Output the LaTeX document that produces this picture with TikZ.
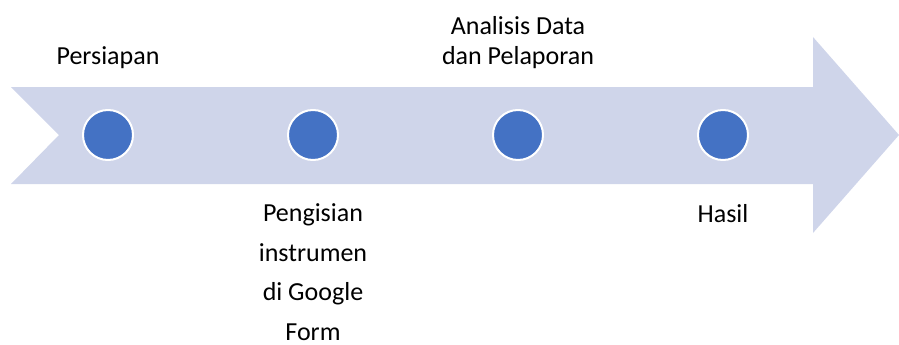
\documentclass[tikz,border=0pt]{standalone}
\usepackage{fontspec}
\setmainfont{Carlito}
\definecolor{arrowfill}{HTML}{CFD5EA}
\definecolor{dotfill}{HTML}{4472C4}
\begin{document}
\begin{tikzpicture}[x=1pt,y=-1pt,
  dot/.style={circle,fill=dotfill,draw=white,line width=2pt,minimum size=50pt,inner sep=0pt},
  lbl/.style={font=\fontsize{26}{29}\selectfont,align=center,anchor=base,inner sep=0pt}]
\useasboundingbox (0,0) rectangle (899,345);
\fill[arrowfill] (11,87) -- (813,87) -- (813,37) -- (899,135) -- (813,233) -- (813,184) -- (11,184) -- (59,135) -- cycle;
\node[dot] (c1) at (108,135) {};
\node[dot] (c2) at (313,135) {};
\node[dot] (c3) at (518,135) {};
\node[dot] (c4) at (723,135) {};
\node[lbl] (t1) at (108,65) {Persiapan};
\node[lbl] (t3) at (518,64) {Analisis Data\\dan Pelaporan};
\node[lbl,font=\fontsize{26}{39.5}\selectfont] (t2) at (313,340) {Pengisian\\instrumen\\di Google\\Form};
\node[lbl] (t4) at (723,222) {Hasil};
\end{tikzpicture}
\end{document}
